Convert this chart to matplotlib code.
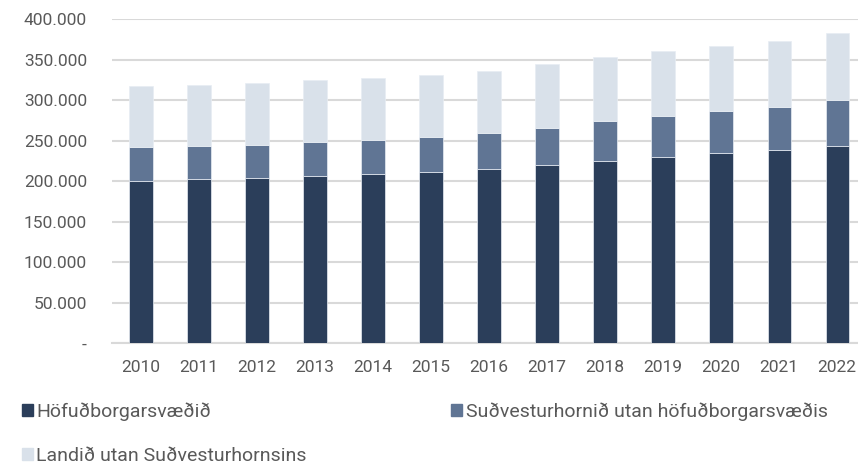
import matplotlib.pyplot as plt
from matplotlib.patches import Patch
from matplotlib.ticker import FuncFormatter
import numpy as np

# Population by region (thousands of people)
years = ['2010', '2011', '2012', '2013', '2014', '2015', '2016',
         '2017', '2018', '2019', '2020', '2021', '2022']
capital = [200.2, 202.6, 204.3, 206.7, 209.2, 211.7, 215.4,
           220.3, 225.3, 230.2, 235.1, 238.8, 243.7]
southwest = [41.5, 40.4, 40.3, 41.2, 41.5, 42.7, 44.0,
             45.6, 48.9, 50.5, 51.4, 52.6, 56.4]
rest = [75.6, 75.6, 76.1, 76.5, 76.5, 76.1, 76.9,
        78.6, 78.9, 80.2, 80.2, 81.0, 82.2]

labels = ['Höfuðborgarsvæðið',
          'Suðvesturhornið utan höfuðborgarsvæðis',
          'Landið utan Suðvesturhornsins']
colors = ['#2b3e5a', '#607594', '#d9e1ea']

plt.rcParams['font.family'] = ['Roboto', 'DejaVu Sans']
txt = '#595959'

capital = np.array(capital) * 1000
southwest = np.array(southwest) * 1000
rest = np.array(rest) * 1000

fig = plt.figure(figsize=(8.58, 4.70), dpi=100)
ax = fig.add_axes([112 / 858, 1 - 343.3 / 470, 746 / 858, 324.3 / 470])

x = np.arange(len(years))
w = 0.4
ax.bar(x, capital, w, color=colors[0], edgecolor='#e8edf3', linewidth=0.5, zorder=3)
ax.bar(x, southwest, w, bottom=capital, color=colors[1], edgecolor='#e8edf3', linewidth=0.5, zorder=3)
ax.bar(x, rest, w, bottom=capital + southwest, color=colors[2], edgecolor='#e8edf3', linewidth=0.5, zorder=3)

ax.set_ylim(0, 400000)
ax.set_xlim(-0.5, 12.36)
ax.set_yticks(np.arange(0, 400001, 50000))
ax.yaxis.set_major_formatter(FuncFormatter(
    lambda v, p: '-' if v == 0 else f'{int(v):,}'.replace(',', '.')))
ax.set_xticks(x)
ax.set_xticklabels(years)

ax.grid(axis='y', color='#d9d9d9', linewidth=1.5, zorder=0)
for s in ['top', 'right', 'left']:
    ax.spines[s].set_visible(False)
ax.spines['bottom'].set_color('#d9d9d9')
ax.spines['bottom'].set_linewidth(1.5)
ax.tick_params(axis='y', length=0, pad=18, labelsize=12.5, labelcolor=txt)
ax.tick_params(axis='x', length=0, pad=12, labelsize=12.5, labelcolor=txt)

# row-major legend order: col1 = capital, rest ; col2 = southwest
handles = [Patch(color=colors[0]), Patch(color=colors[2]), Patch(color=colors[1])]
fig.legend(handles, [labels[0], labels[2], labels[1]], ncol=2,
           loc='upper left', bbox_to_anchor=(10 / 858, 1 - 391 / 470),
           frameon=False, fontsize=14, labelcolor=txt,
           handlelength=0.56, handleheight=0.56, handletextpad=0.2,
           columnspacing=7.4, labelspacing=1.3, borderaxespad=0.2)

fig.savefig('out.png', dpi=100)
